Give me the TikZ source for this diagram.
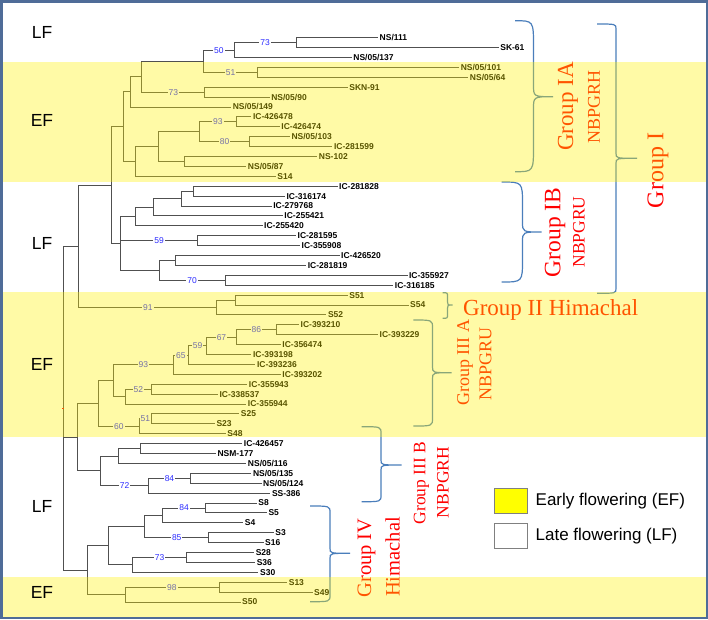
\documentclass[tikz,border=0pt]{standalone}
\usepackage{fontspec}
\setmainfont{Liberation Sans}
\newfontfamily\timesfont{Liberation Serif}
\usetikzlibrary{positioning,calc}

\definecolor{treegrey}{RGB}{80,80,80}
\definecolor{bootblue}{RGB}{45,45,255}
\definecolor{braceblue}{RGB}{74,126,187}
\definecolor{framecol}{RGB}{79,108,152}
\definecolor{legendgrey}{RGB}{128,128,128}
\definecolor{legyellow}{RGB}{255,255,0}

\tikzset{
  branch/.style={draw=treegrey, line width=0.9pt},
  leaf/.style={anchor=west, inner sep=1.5pt, font=\bfseries\fontsize{8.5}{8.5}\selectfont},
  boot/.style={pos=0.75, fill=white, inner sep=1pt, text=bootblue, font=\fontsize{8.5}{8.5}\selectfont},
  bracket/.style={draw=braceblue, line width=1.2pt},
  grp/.style={text=red, inner sep=0pt, rotate=90},
  band/.style={fill=yellow, fill opacity=0.35},
  flow/.style={font=\fontsize{17.5}{17.5}\selectfont},
  legbox/.style={draw=legendgrey, line width=1pt, minimum width=32.7pt, minimum height=25pt, inner sep=0pt},
}

% x0, x1 (bulge), x2 (tip), ytop, ymid, ybot, end radius, tip radius
\newcommand{\grpbrace}[8]{%
  \draw[bracket] (#1,#4) .. controls (#2,#4) .. (#2,#4+#7)
    -- (#2,#5-#8) .. controls (#2,#5) .. (#3,#5)
    .. controls (#2,#5) .. (#2,#5+#8)
    -- (#2,#6-#7) .. controls (#2,#6) .. (#1,#6);}

\begin{document}
\begin{tikzpicture}[x=1pt,y=-1pt]

  \useasboundingbox (0,0) rectangle (708,619);
  \fill[white] (0,0) rectangle (708,619);

  \begin{scope}[xscale=1.0135]
  % leaves
  \node[leaf] (l0) at (373,37.7) {NS/111};
  \node[leaf] (l1) at (492,47.6) {SK-61};
  \node[leaf] (l2) at (347,57.5) {NS/05/137};
  \node[leaf] (l3) at (453,67.4) {NS/05/101};
  \node[leaf] (l4) at (462,77.3) {NS/05/64};
  \node[leaf] (l5) at (343,87.2) {SKN-91};
  \node[leaf] (l6) at (266,97.1) {NS/05/90};
  \node[leaf] (l7) at (228,107.0) {NS/05/149};
  \node[leaf] (l8) at (248,116.9) {IC-426478};
  \node[leaf] (l9) at (276,126.8) {IC-426474};
  \node[leaf] (l10) at (286,136.7) {NS/05/103};
  \node[leaf] (l11) at (328,146.6) {IC-281599};
  \node[leaf] (l12) at (313,156.5) {NS-102};
  \node[leaf] (l13) at (243,166.4) {NS/05/87};
  \node[leaf] (l14) at (272,176.3) {S14};
  \node[leaf] (l15) at (333,186.2) {IC-281828};
  \node[leaf] (l16) at (281,196.1) {IC-316174};
  \node[leaf] (l17) at (268,206.0) {IC-279768};
  \node[leaf] (l18) at (279,215.9) {IC-255421};
  \node[leaf] (l19) at (259,225.8) {IC-255420};
  \node[leaf] (l20) at (292,235.7) {IC-281595};
  \node[leaf] (l21) at (296,245.6) {IC-355908};
  \node[leaf] (l22) at (335,255.5) {IC-426520};
  \node[leaf] (l23) at (302,265.4) {IC-281819};
  \node[leaf] (l24) at (402,275.3) {IC-355927};
  \node[leaf] (l25) at (388,285.2) {IC-316185};
  \node[leaf] (l26) at (343,295.1) {S51};
  \node[leaf] (l27) at (403,305.0) {S54};
  \node[leaf] (l28) at (322,314.9) {S52};
  \node[leaf] (l29) at (295,324.8) {IC-393210};
  \node[leaf] (l30) at (373,334.7) {IC-393229};
  \node[leaf] (l31) at (277,344.6) {IC-356474};
  \node[leaf] (l32) at (248,354.5) {IC-393198};
  \node[leaf] (l33) at (252,364.4) {IC-393236};
  \node[leaf] (l34) at (277,374.3) {IC-393202};
  \node[leaf] (l35) at (244,384.2) {IC-355943};
  \node[leaf] (l36) at (215,394.1) {IC-338537};
  \node[leaf] (l37) at (243,404.0) {IC-355944};
  \node[leaf] (l38) at (236,413.9) {S25};
  \node[leaf] (l39) at (212,423.8) {S23};
  \node[leaf] (l40) at (222.7,433.7) {S48};
  \node[leaf] (l41) at (239,443.6) {IC-426457};
  \node[leaf] (l42) at (213,453.5) {NSM-177};
  \node[leaf] (l43) at (243,463.4) {NS/05/116};
  \node[leaf] (l44) at (248,473.3) {NS/05/135};
  \node[leaf] (l45) at (258,483.2) {NS/05/124};
  \node[leaf] (l46) at (266.7,493.1) {SS-386};
  \node[leaf] (l47) at (253.3,503.0) {S8};
  \node[leaf] (l48) at (263.3,512.9) {S5};
  \node[leaf] (l49) at (240,522.8) {S4};
  \node[leaf] (l50) at (270,532.7) {S3};
  \node[leaf] (l51) at (260,542.6) {S16};
  \node[leaf] (l52) at (250.7,552.5) {S28};
  \node[leaf] (l53) at (251.7,562.4) {S36};
  \node[leaf] (l54) at (255,572.3) {S30};
  \node[leaf] (l55) at (283.3,582.2) {S13};
  \node[leaf] (l56) at (308.3,592.1) {S49};
  \node[leaf] (l57) at (237.3,602.0) {S50};

  % internal nodes
  \coordinate (root) at (62.7,408.2);
  \coordinate (n77) at (77.7,246.3);
  \coordinate (n110) at (110,185);
  \coordinate (n122) at (122,126.65);
  \coordinate (n129) at (129,91.85);
  \coordinate (n140) at (140,76.7);
  \coordinate (n201) at (201,61.2);
  \coordinate (n231) at (231,50.1);
  \coordinate (n292) at (292,42.65);
  \coordinate (n254) at (254,72.35);
  \coordinate (n202) at (202,92.15);
  \coordinate (n134) at (134,161.45);
  \coordinate (n156) at (156,146.6);
  \coordinate (n197) at (197,131.75);
  \coordinate (n233) at (233,121.85);
  \coordinate (n246) at (246,141.65);
  \coordinate (n182) at (182,161.45);
  \coordinate (n119) at (119,243.4);
  \coordinate (m134) at (134,216.5);
  \coordinate (n151) at (151,207.25);
  \coordinate (n179) at (179,198.6);
  \coordinate (n191) at (190.7,191.15);
  \coordinate (n195) at (195,240.65);
  \coordinate (n157) at (157,270.35);
  \coordinate (n173) at (173,260.45);
  \coordinate (n222) at (222,280.25);
  \coordinate (n214) at (214,307.5);
  \coordinate (n232) at (232,300.05);
  \coordinate (n76) at (76,437.2);
  \coordinate (n97) at (96.7,403.5);
  \coordinate (n112) at (111.7,380.65);
  \coordinate (n171) at (171,364.7);
  \coordinate (n186) at (186,355.1);
  \coordinate (n204) at (204,345.85);
  \coordinate (m233) at (233,337.2);
  \coordinate (n273) at (273,329.75);
  \coordinate (n124) at (124,396.6);
  \coordinate (n149) at (149,389.15);
  \coordinate (n138) at (137.7,426.3);
  \coordinate (m149) at (149,418.85);
  \coordinate (n99) at (99,470.85);
  \coordinate (n117) at (116.7,456);
  \coordinate (m138) at (138.3,448.55);
  \coordinate (n147) at (146.7,485.7);
  \coordinate (n188) at (187.7,478.25);
  \coordinate (n86) at (86,570.15);
  \coordinate (n107) at (106.7,545.7);
  \coordinate (n143) at (142.7,526.5);
  \coordinate (n161) at (160.7,515.4);
  \coordinate (n203) at (202.7,507.95);
  \coordinate (n206) at (206,537.65);
  \coordinate (n131) at (130.7,564.9);
  \coordinate (n184) at (184,557.45);
  \coordinate (n123) at (123.3,594.6);
  \coordinate (n216) at (216,587.15);

  % branches
  \draw[branch] (root) |- (n77);
  \draw[branch] (root) |- (n76);
  \draw[branch] (root) |- (n86);
  \draw[red, line width=1pt] ($(root)+(-1.5,0)$) -- ($(root)+(0.5,0)$);

  \draw[branch] (n77) |- (n110);
  \draw[branch] (n77) |- node[boot] {91} (n214);
  \draw[branch] (n110) |- (n122);
  \draw[branch] (n110) |- (n119);
  \draw[branch] (n122) |- (n129);
  \draw[branch] (n122) |- (n134);
  \draw[branch] (n129) |- (n140);
  \draw[branch] (n129) |- (l7);
  \draw[branch] (n140) |- (n201);
  \draw[branch] (n140) |- node[boot] {73} (n202);
  \draw[branch] (n201) |- node[boot] {50} (n231);
  \draw[branch] (n201) |- node[boot] {51} (n254);
  \draw[branch] (n231) |- node[boot] {73} (n292);
  \draw[branch] (n231) |- (l2);
  \draw[branch] (n292) |- (l0);
  \draw[branch] (n292) |- (l1);
  \draw[branch] (n254) |- (l3);
  \draw[branch] (n254) |- (l4);
  \draw[branch] (n202) |- (l5);
  \draw[branch] (n202) |- (l6);
  \draw[branch] (n134) |- (n156);
  \draw[branch] (n134) |- (l14);
  \draw[branch] (n156) |- (n197);
  \draw[branch] (n156) |- (n182);
  \draw[branch] (n197) |- node[boot] {93} (n233);
  \draw[branch] (n197) |- node[boot] {80} (n246);
  \draw[branch] (n233) |- (l8);
  \draw[branch] (n233) |- (l9);
  \draw[branch] (n246) |- (l10);
  \draw[branch] (n246) |- (l11);
  \draw[branch] (n182) |- (l12);
  \draw[branch] (n182) |- (l13);

  \draw[branch] (n119) |- (m134);
  \draw[branch] (n119) |- node[boot] {59} (n195);
  \draw[branch] (n119) |- (n157);
  \draw[branch] (m134) |- (n151);
  \draw[branch] (m134) |- (l19);
  \draw[branch] (n151) |- (n179);
  \draw[branch] (n151) |- (l18);
  \draw[branch] (n179) |- (n191);
  \draw[branch] (n179) |- (l17);
  \draw[branch] (n191) |- (l15);
  \draw[branch] (n191) |- (l16);
  \draw[branch] (n195) |- (l20);
  \draw[branch] (n195) |- (l21);
  \draw[branch] (n157) |- (n173);
  \draw[branch] (n157) |- node[boot] {70} (n222);
  \draw[branch] (n173) |- (l22);
  \draw[branch] (n173) |- (l23);
  \draw[branch] (n222) |- (l24);
  \draw[branch] (n222) |- (l25);

  \draw[branch] (n214) |- (n232);
  \draw[branch] (n214) |- (l28);
  \draw[branch] (n232) |- (l26);
  \draw[branch] (n232) |- (l27);

  \draw[branch] (n76) |- (n97);
  \draw[branch] (n76) |- (n99);
  \draw[branch] (n97) |- (n112);
  \draw[branch] (n97) |- node[boot] {60} (n138);
  \draw[branch] (n112) |- node[boot] {93} (n171);
  \draw[branch] (n112) |- (n124);
  \draw[branch] (n171) |- node[boot] {65} (n186);
  \draw[branch] (n171) |- (l34);
  \draw[branch] (n186) |- node[boot] {59} (n204);
  \draw[branch] (n186) |- (l33);
  \draw[branch] (n204) |- node[boot] {67} (m233);
  \draw[branch] (n204) |- (l32);
  \draw[branch] (m233) |- node[boot] {86} (n273);
  \draw[branch] (m233) |- (l31);
  \draw[branch] (n273) |- (l29);
  \draw[branch] (n273) |- (l30);
  \draw[branch] (n124) |- node[boot] {52} (n149);
  \draw[branch] (n124) |- (l37);
  \draw[branch] (n149) |- (l35);
  \draw[branch] (n149) |- (l36);
  \draw[branch] (n138) |- node[boot] {51} (m149);
  \draw[branch] (n138) |- (l40);
  \draw[branch] (m149) |- (l38);
  \draw[branch] (m149) |- (l39);

  \draw[branch] (n99) |- (n117);
  \draw[branch] (n99) |- node[boot] {72} (n147);
  \draw[branch] (n117) |- (m138);
  \draw[branch] (n117) |- (l43);
  \draw[branch] (m138) |- (l41);
  \draw[branch] (m138) |- (l42);
  \draw[branch] (n147) |- node[boot] {84} (n188);
  \draw[branch] (n147) |- (l46);
  \draw[branch] (n188) |- (l44);
  \draw[branch] (n188) |- (l45);

  \draw[branch] (n86) |- (n107);
  \draw[branch] (n86) |- (n123);
  \draw[branch] (n107) |- (n143);
  \draw[branch] (n107) |- (n131);
  \draw[branch] (n143) |- (n161);
  \draw[branch] (n143) |- node[boot] {85} (n206);
  \draw[branch] (n161) |- node[boot] {84} (n203);
  \draw[branch] (n161) |- (l49);
  \draw[branch] (n203) |- (l47);
  \draw[branch] (n203) |- (l48);
  \draw[branch] (n206) |- (l50);
  \draw[branch] (n206) |- (l51);
  \draw[branch] (n131) |- node[boot] {73} (n184);
  \draw[branch] (n131) |- (l54);
  \draw[branch] (n184) |- (l52);
  \draw[branch] (n184) |- (l53);
  \draw[branch] (n123) |- node[boot] {98} (n216);
  \draw[branch] (n123) |- (l57);
  \draw[branch] (n216) |- (l55);
  \draw[branch] (n216) |- (l56);
  \end{scope}

  % group braces
  \grpbrace{515}{533.5}{553}{20.7}{96.7}{171.7}{26}{12}
  \grpbrace{501.7}{522.5}{541.7}{182}{232}{282}{23}{10}
  \grpbrace{442.7}{447.5}{452.7}{292.7}{305}{318.3}{4}{3}
  \grpbrace{413.3}{432.5}{451.7}{320}{372.7}{426}{8}{6}
  \grpbrace{361.7}{381}{401.7}{426.7}{465}{501.7}{7}{5}
  \grpbrace{310}{330}{350}{506}{553.3}{601.7}{7}{5}
  \grpbrace{597}{616}{637}{24}{158.3}{293.3}{5}{5}

  % group labels
  \node[grp, font=\timesfont\fontsize{23}{23}\selectfont] (gia) at (568,106.5) {Group IA};
  \node[grp, font=\timesfont\fontsize{18}{18}\selectfont] (gian) at (594,106.5) {NBPGRH};
  \node[grp, font=\timesfont\fontsize{24}{24}\selectfont] (gi) at (658,170.5) {Group I};
  \node[grp, font=\timesfont\fontsize{23.5}{23.5}\selectfont] (gib) at (555,232.5) {Group IB};
  \node[grp, font=\timesfont\fontsize{17.5}{17.5}\selectfont] (gibn) at (579,232) {NBPGRU};
  \node[text=red, inner sep=0pt, anchor=base west, font=\timesfont\fontsize{23}{23}\selectfont] (gii) at (463,315.5) {Group II Himachal};
  \node[grp, font=\timesfont\fontsize{18}{18}\selectfont] (giiia) at (465,362.5) {Group III A};
  \node[grp, font=\timesfont\fontsize{18}{18}\selectfont] (giiian) at (485.5,364) {NBPGRU};
  \node[grp, font=\timesfont\fontsize{17.5}{17.5}\selectfont] (giiib) at (421.5,483) {Group III B};
  \node[grp, font=\timesfont\fontsize{17.5}{17.5}\selectfont] (giiibn) at (443,482.5) {NBPGRH};
  \node[grp, font=\timesfont\fontsize{20.5}{20.5}\selectfont] (giv) at (366.5,558) {Group IV};
  \node[grp, font=\timesfont\fontsize{20.5}{20.5}\selectfont] (givh) at (392.5,557) {Himachal};

  % early flowering bands
  \fill[band] (2.5,61.7) rectangle (705.5,182);
  \fill[band] (2.5,292.3) rectangle (705.5,437);
  \fill[band] (2.5,577) rectangle (705.5,616.5);

  \node[flow] (lf1) at (42,32) {LF};
  \node[flow] (ef1) at (42,120) {EF};
  \node[flow] (lf2) at (42,243.7) {LF};
  \node[flow] (ef2) at (42,364.7) {EF};
  \node[flow] (lf3) at (42,506) {LF};
  \node[flow] (ef3) at (42,592.5) {EF};

  % legend
  \node[legbox, fill=legyellow] (ebox) at (511.3,500.8) {};
  \node[legbox, fill=white] (lbox) at (511.3,535.8) {};
  \node[font=\fontsize{17}{17}\selectfont, right=4pt of ebox] (etext) {Early flowering (EF)};
  \node[font=\fontsize{17}{17}\selectfont, right=4pt of lbox] (ltext) {Late flowering (LF)};

  \draw[framecol, line width=2.5pt] (1.25,1.25) rectangle (706.75,617.75);

\end{tikzpicture}
\end{document}
